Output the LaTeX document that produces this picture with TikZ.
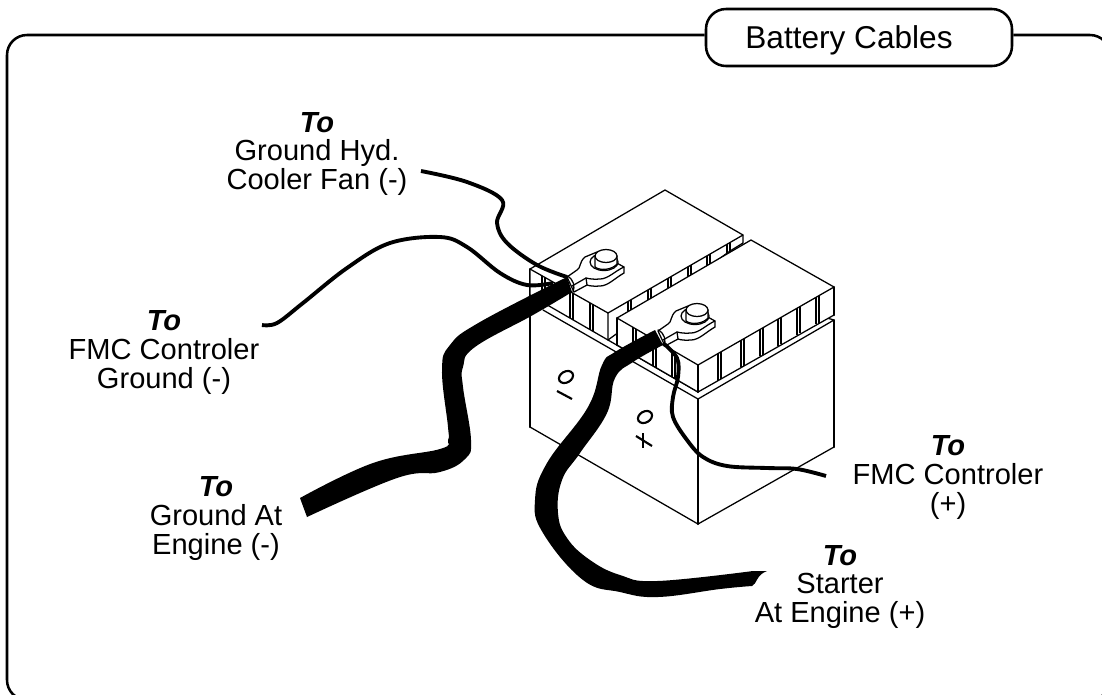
\documentclass[tikz,border=0pt]{standalone}
\usepackage{fontspec}
\setmainfont{Liberation Sans}
\tikzset{
  thinl/.style={line width=0.95pt,line join=round,line cap=round},
  vertl/.style={line width=1.5pt,line cap=round},
  rib/.style={line width=1.1pt},
  wire/.style={line width=2.9pt,line cap=butt,line join=round},
  cablefill/.style={fill=black,draw=none},
  lbl/.style={align=center,inner sep=0pt,font=\fontsize{21.8pt}{21.75pt}\selectfont},
  framel/.style={line width=1.9pt,rounded corners=15pt},
}
\newcommand{\lugbody}[2]{%
  \begin{scope}[shift={(#1,#2)}]
    \draw[thinl,fill=white] (567,277) -- (577,270) .. controls (581,268) and (579,262) .. (585,257)
      -- (597,252) -- (615,262) -- (624,267) -- (624,273)
      .. controls (615,278) and (608,286) .. (600,286) .. controls (594,286.5) and (590,286) .. (587,285)
      -- (574,292) -- cycle;
    \draw[thinl] (624,267) .. controls (615,271) and (608,279) .. (600,279)
      .. controls (594,279.5) and (590,279) .. (586,278) -- (572,286);
    \draw[thinl] (586,278) -- (587,285);
    \draw[thinl,fill=white] (604,262) ellipse [x radius=14,y radius=8.5];
    \draw[thinl,fill=white] (595,256) -- (595,267) .. controls (600,271) and (612,270) .. (617,264) -- (617,256) -- cycle;
    \draw[thinl,fill=white] (606,256) ellipse [x radius=11,y radius=6.5];
    \draw[thinl] (567,276) .. controls (574,279) and (575,287) .. (573,292);
  \end{scope}}
\begin{document}
\begin{tikzpicture}[x=0.75pt,y=-0.75pt]
\useasboundingbox (0,0) rectangle (1102,694);
\clip (0,0) rectangle (1102,694);
\fill[white] (0,0) rectangle (1102,694);
\coordinate (fy) at (0,35);
\node[draw,fill=white,line width=1.9pt,rounded corners=15pt,minimum width=306*0.75pt,minimum height=57*0.75pt,
      inner sep=0pt,text height=22.2pt,text depth=5pt,font=\fontsize{23.7pt}{28pt}\selectfont] (title) at (859,37.5)
      {Battery Cables\hspace*{15pt}};
\draw[framel] (title.west |- fy) -- (7,35) -- (7,700) -- (1110,700) -- (1110,35) -- (title.east |- fy);

% body
\fill[white] (530,269) -- (530,427) -- (698,524) -- (834,447) -- (834,320) -- (698,399) -- cycle;
\draw[vertl] (530,269) -- (530,427);
\draw[thinl] (530,427) -- (698,524) -- (834,447);
\draw[vertl] (698,399) -- (698,524);
\draw[vertl] (834,320) -- (834,447);
\draw[thinl] (543,310) -- (698,399) -- (834,320) -- (827,318);

% left cell
\draw[thinl,fill=white] (530,269) -- (665,190) -- (743,235) -- (743,243) -- (730,251) -- (608,340) -- (530,295) -- cycle;
\draw[thinl] (608,313) -- (743,235);
\draw[thinl] (530,269) -- (608,313) -- (608,340);
\foreach \x in {628,648,668,688,707,727}{
  \draw[rib] (\x,{313-(\x-608)*0.576}) -- (\x,{340-(\x-608)*0.576});
  \draw[rib] ({\x+3},{313-(\x+3-608)*0.576}) -- ({\x+3},{340-(\x+3-608)*0.576});
}
\foreach \x in {542,570,590}{
  \draw[rib] (\x,{269+(\x-530)*0.564}) -- (\x,{295+(\x-530)*0.577});
  \draw[rib] ({\x+3},{269+(\x+3-530)*0.564}) -- ({\x+3},{295+(\x+3-530)*0.577});
}
\draw[thinl] (608,340) -- (698,392);

% right cell
\draw[thinl,fill=white] (617,318) -- (751,240) -- (834,287) -- (834,315) -- (698,392) -- (617,345) -- cycle;
\draw[thinl] (617,318) -- (698,365) -- (834,287);
\draw[vertl] (698,365) -- (698,392);
\draw[vertl] (834,287) -- (834,315);
\draw[vertl] (617,318) -- (617,345);
\foreach \x in {633,653,672}{
  \draw[rib] (\x,{318+(\x-617)*0.58}) -- (\x,{345+(\x-617)*0.58});
  \draw[rib] ({\x+3},{318+(\x+3-617)*0.58}) -- ({\x+3},{345+(\x+3-617)*0.58});
}
\foreach \x in {718,741,760,778,797,816}{
  \draw[rib] (\x,{365-(\x-698)*0.574}) -- (\x,{392-(\x-698)*0.574});
  \draw[rib] ({\x+3},{365-(\x+3-698)*0.574}) -- ({\x+3},{392-(\x+3-698)*0.574});
}

% polarity marks
\draw[line width=1.6pt,rotate around={-60:(566,377)}] (566,377) ellipse [x radius=5.5,y radius=7.5];
\draw[line width=1.6pt] (557,391) -- (572,399);
\draw[line width=1.6pt,rotate around={-60:(645,417)}] (645,417) ellipse [x radius=5.5,y radius=7.5];
\draw[line width=1.6pt] (636,436) -- (652,446);
\draw[line width=1.6pt] (643,433) -- (643,448);

% terminals
\lugbody{0}{0}
\lugbody{91}{54}

% thin wires
\draw[wire] plot[smooth,tension=.6] coordinates {(421,171) (467,182) (502,200) (497,223) (507,243) (537,265) (567,277)};
\draw[wire] plot[smooth,tension=.6] coordinates {(262,325) (277,323) (303,303) (347,268) (390,243) (440,237) (467,247) (500,273) (527,285) (553,283)};
\draw[wire] plot[smooth,tension=.6] coordinates {(663,343) (677,358) (678,377) (673,397) (673,417) (687,440) (703,457) (727,466) (767,468) (797,469) (826,476)};

% thick cables
\fill[cablefill] plot[smooth,tension=.7] coordinates {(567,277) (480,322) (450,345) (442,370) (448,427) (448,440) (440,449) (373,463) (300,498)}
  -- plot[smooth,tension=.7] coordinates {(307,517) (397,478) (440,472) (465,459) (471,440) (463,387) (463,367) (475,347) (533,315) (572,292)} -- cycle;
\fill[cablefill] plot[smooth,tension=.7] coordinates {(655,330) (615,352) (602,365) (588,407) (547,463) (535,500) (543,533) (583,580) (620,592) (658,597) (720,589) (752,586)}
  .. controls (757,584) and (756,575) .. (767,571)
  -- plot[smooth,tension=.7] coordinates {(753,571) (657,581) (620,575) (590,560) (567,538) (558,513) (562,480) (580,453) (607,413) (615,378) (633,362) (663,345)} -- cycle;

% labels
\node[lbl] (l1) at (317,154) {\textbf{\textit{To}}\\Ground Hyd.\\Cooler Fan (-)};
\node[lbl] (l2) at (164,352) {\textbf{\textit{To}}\\FMC Controler\\Ground (-)};
\node[lbl] (l3) at (216,519) {\textbf{\textit{To}}\\Ground At\\Engine (-)};
\node[lbl] (l4) at (948,477) {\textbf{\textit{To}}\\FMC Controler\\(+)};
\node[lbl] (l5) at (840,587) {\textbf{\textit{To}}\\Starter\\At Engine (+)};
\end{tikzpicture}
\end{document}
